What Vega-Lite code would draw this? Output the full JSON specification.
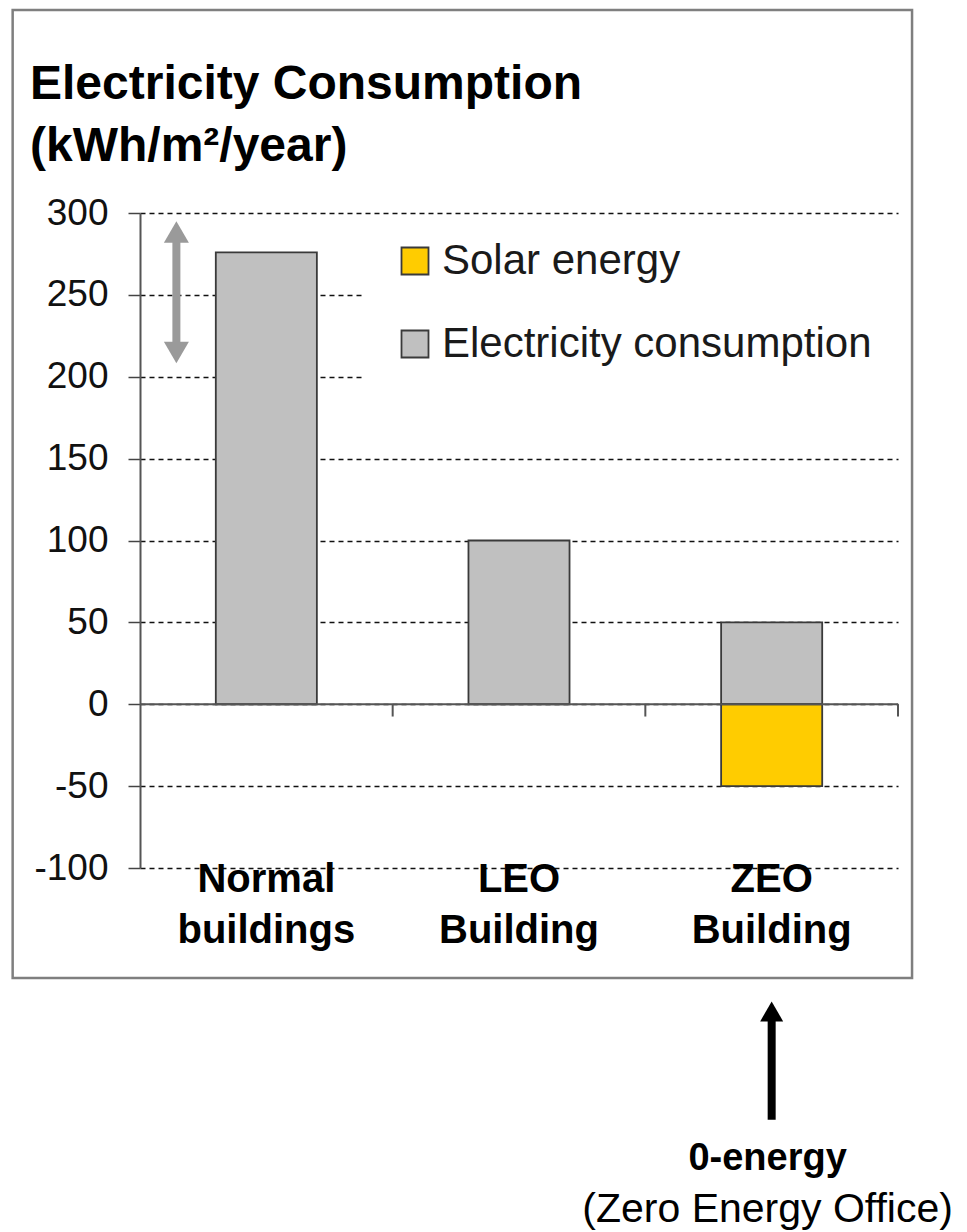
{
  "$schema": "https://vega.github.io/schema/vega-lite/v6.json",
  "width": 758,
  "height": 655,
  "autosize": {"type": "none"},
  "padding": {"left": 140, "top": 213, "right": 69, "bottom": 364},
  "background": "white",
  "config": {"view": {"stroke": null}, "font": "Liberation Sans"},
  "title": {
    "text": ["Electricity Consumption", "(kWh/m²/year)"],
    "anchor": "start",
    "frame": "group",
    "baseline": "alphabetic",
    "dx": -110,
    "offset": -200,
    "fontSize": 48,
    "fontWeight": "bold",
    "lineHeight": 62,
    "color": "#000000",
    "font": "Liberation Sans"
  },
  "datasets": {
    "energy": [
      {"building": "Normal buildings", "type": "Electricity consumption", "value": 276},
      {"building": "LEO Building", "type": "Electricity consumption", "value": 100},
      {"building": "ZEO Building", "type": "Electricity consumption", "value": 50},
      {"building": "ZEO Building", "type": "Solar energy", "value": -50}
    ]
  },
  "layer": [
    {
      "data": {"values": [{}]},
      "mark": {"type": "rect", "filled": false, "stroke": "#7f7f7f", "strokeWidth": 2.5},
      "encoding": {
        "x": {"datum": "Normal buildings", "type": "nominal", "bandPosition": -2.01, "scale": {"domain": ["Normal buildings", "LEO Building", "ZEO Building"], "paddingInner": 0.6, "paddingOuter": 0.3}},
        "x2": {"datum": "ZEO Building", "bandPosition": 1.889},
        "y": {"datum": 424, "type": "quantitative", "scale": {"domain": [-100, 300], "nice": false, "zero": false}},
        "y2": {"datum": -167.2}
      }
    },
    {
      "data": {"values": [{}]},
      "mark": {"type": "rect", "fill": "white", "stroke": null},
      "encoding": {
        "x": {"datum": "Normal buildings", "type": "nominal", "bandPosition": 1.476, "scale": {"domain": ["Normal buildings", "LEO Building", "ZEO Building"], "paddingInner": 0.6, "paddingOuter": 0.3}},
        "x2": {"datum": "ZEO Building", "bandPosition": 1.76},
        "y": {"datum": 290, "type": "quantitative", "scale": {"domain": [-100, 300], "nice": false, "zero": false}},
        "y2": {"datum": 195}
      }
    },
    {
      "data": {"name": "energy"},
      "mark": {"type": "bar", "stroke": "#3a3a3a", "strokeWidth": 1.8},
      "encoding": {
        "x": {
          "field": "building", "type": "nominal",
          "scale": {"domain": ["Normal buildings", "LEO Building", "ZEO Building"], "paddingInner": 0.6, "paddingOuter": 0.3},
          "axis": {
            "title": null, "domain": false, "ticks": false, "tickSize": 0, "grid": false,
            "labelAngle": 0, "labelAlign": "center", "labelExpr": "split(datum.label, ' ')",
            "labelFont": "Liberation Sans", "labelFontSize": 40, "labelFontWeight": "bold",
            "labelLineHeight": 51, "labelPadding": 11, "labelColor": "#000000"
          }
        },
        "y": {
          "field": "value", "type": "quantitative", "stack": null,
          "scale": {"domain": [-100, 300], "nice": false, "zero": false},
          "axis": {
            "title": null, "values": [-100, -50, 0, 50, 100, 150, 200, 250, 300],
            "labelExpr": "'' + datum.value",
            "grid": true, "gridColor": "#111111", "gridDash": [5, 4], "gridWidth": 1.6, "gridOpacity": 1,
            "domainColor": "#555555", "domainWidth": 2,
            "tickColor": "#444444", "tickSize": 12, "tickWidth": 1.5,
            "labelFont": "Liberation Sans", "labelFontSize": 37, "labelColor": "#111111", "labelPadding": 20
          }
        },
        "color": {
          "field": "type", "type": "nominal",
          "scale": {"domain": ["Solar energy", "Electricity consumption"], "range": ["#FFCC00", "#C0C0C0"]},
          "legend": {
            "title": null, "orient": "none", "legendX": 254, "legendY": 27, "padding": 0,
            "symbolType": "square", "symbolSize": 729, "symbolStrokeColor": "#3a3a3a", "symbolStrokeWidth": 1.8, "symbolOpacity": 1,
            "labelFont": "Liberation Sans", "labelFontSize": 42, "labelColor": "#1a1a1a", "labelOffset": 6, "labelLimit": 600,
            "rowPadding": 41
          }
        }
      }
    },
    {
      "data": {"values": [{}]},
      "mark": {"type": "rule", "color": "#555555", "strokeWidth": 2},
      "encoding": {
        "y": {"datum": 0, "type": "quantitative", "scale": {"domain": [-100, 300], "nice": false, "zero": false}}
      }
    },
    {
      "data": {"name": "energy"},
      "transform": [{"filter": "datum.type == 'Electricity consumption'"}],
      "mark": {"type": "rule", "color": "#555555", "strokeWidth": 2},
      "encoding": {
        "x": {"field": "building", "type": "nominal", "bandPosition": 1.75, "scale": {"domain": ["Normal buildings", "LEO Building", "ZEO Building"], "paddingInner": 0.6, "paddingOuter": 0.3}},
        "y": {"datum": 0, "type": "quantitative", "scale": {"domain": [-100, 300], "nice": false, "zero": false}},
        "y2": {"datum": -7.5}
      }
    },
    {
      "data": {"values": [{}]},
      "mark": {"type": "rule", "color": "#9a9a9a", "strokeWidth": 8},
      "encoding": {
        "x": {"datum": "Normal buildings", "type": "nominal", "bandPosition": -0.39, "scale": {"domain": ["Normal buildings", "LEO Building", "ZEO Building"], "paddingInner": 0.6, "paddingOuter": 0.3}},
        "y": {"datum": 288.4, "type": "quantitative", "scale": {"domain": [-100, 300], "nice": false, "zero": false}},
        "y2": {"datum": 214.8}
      }
    },
    {
      "data": {"values": [{}]},
      "mark": {"type": "point", "shape": "triangle-up", "filled": true, "color": "#9a9a9a", "opacity": 1, "size": 625},
      "encoding": {
        "x": {"datum": "Normal buildings", "type": "nominal", "bandPosition": -0.39, "scale": {"domain": ["Normal buildings", "LEO Building", "ZEO Building"], "paddingInner": 0.6, "paddingOuter": 0.3}},
        "y": {"datum": 288.4, "type": "quantitative", "scale": {"domain": [-100, 300], "nice": false, "zero": false}}
      }
    },
    {
      "data": {"values": [{}]},
      "mark": {"type": "point", "shape": "triangle-down", "filled": true, "color": "#9a9a9a", "opacity": 1, "size": 625},
      "encoding": {
        "x": {"datum": "Normal buildings", "type": "nominal", "bandPosition": -0.39, "scale": {"domain": ["Normal buildings", "LEO Building", "ZEO Building"], "paddingInner": 0.6, "paddingOuter": 0.3}},
        "y": {"datum": 214.8, "type": "quantitative", "scale": {"domain": [-100, 300], "nice": false, "zero": false}}
      }
    },
    {
      "data": {"values": [{}]},
      "mark": {"type": "rule", "color": "#000000", "strokeWidth": 8},
      "encoding": {
        "x": {"datum": "ZEO Building", "type": "nominal", "bandPosition": 0.5, "scale": {"domain": ["Normal buildings", "LEO Building", "ZEO Building"], "paddingInner": 0.6, "paddingOuter": 0.3}},
        "y": {"datum": -187.6, "type": "quantitative", "scale": {"domain": [-100, 300], "nice": false, "zero": false}},
        "y2": {"datum": -253.8}
      }
    },
    {
      "data": {"values": [{}]},
      "mark": {"type": "point", "shape": "triangle-up", "filled": true, "color": "#000000", "opacity": 1, "size": 529},
      "encoding": {
        "x": {"datum": "ZEO Building", "type": "nominal", "bandPosition": 0.5, "scale": {"domain": ["Normal buildings", "LEO Building", "ZEO Building"], "paddingInner": 0.6, "paddingOuter": 0.3}},
        "y": {"datum": -187.6, "type": "quantitative", "scale": {"domain": [-100, 300], "nice": false, "zero": false}}
      }
    },
    {
      "data": {"values": [{}]},
      "mark": {"type": "text", "text": "0-energy", "font": "Liberation Sans", "fontSize": 38, "fontWeight": "bold", "color": "#000000", "align": "center", "baseline": "alphabetic"},
      "encoding": {
        "x": {"datum": "ZEO Building", "type": "nominal", "bandPosition": 0.46, "scale": {"domain": ["Normal buildings", "LEO Building", "ZEO Building"], "paddingInner": 0.6, "paddingOuter": 0.3}},
        "y": {"datum": -284.4, "type": "quantitative", "scale": {"domain": [-100, 300], "nice": false, "zero": false}}
      }
    },
    {
      "data": {"values": [{}]},
      "mark": {"type": "text", "text": "(Zero Energy Office)", "font": "Liberation Sans", "fontSize": 41, "color": "#000000", "align": "center", "baseline": "alphabetic"},
      "encoding": {
        "x": {"datum": "ZEO Building", "type": "nominal", "bandPosition": 0.46, "scale": {"domain": ["Normal buildings", "LEO Building", "ZEO Building"], "paddingInner": 0.6, "paddingOuter": 0.3}},
        "y": {"datum": -316.2, "type": "quantitative", "scale": {"domain": [-100, 300], "nice": false, "zero": false}}
      }
    }
  ]
}
